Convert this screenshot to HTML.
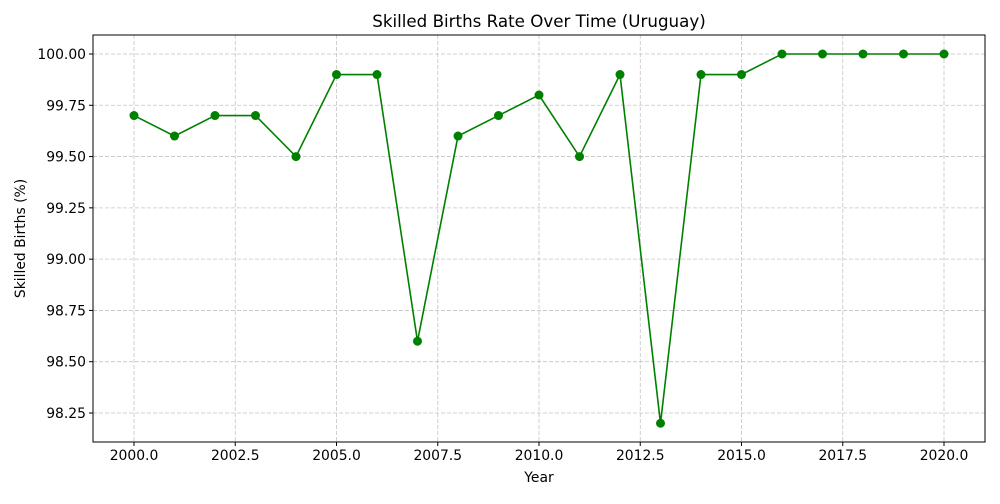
<!DOCTYPE html>
<html><head><meta charset="utf-8"><style>
body{margin:0;background:#fff;font-family:"DejaVu Sans","Liberation Sans",sans-serif}
svg text{font-family:"DejaVu Sans","Liberation Sans",sans-serif}
</style></head><body>
<svg id="chart" width="1000" height="500" xmlns="http://www.w3.org/2000/svg"></svg>
<script>
const years=[2000,2001,2002,2003,2004,2005,2006,2007,2008,2009,2010,2011,2012,2013,2014,2015,2016,2017,2018,2019,2020];
const values=[99.7,99.6,99.7,99.7,99.5,99.9,99.9,98.6,99.6,99.7,99.8,99.5,99.9,98.2,99.9,99.9,100,100,100,100,100];
const xTicks=[2000,2002.5,2005,2007.5,2010,2012.5,2015,2017.5,2020];
const yTicks=[98.25,98.5,98.75,99,99.25,99.5,99.75,100];
const svg=document.getElementById('chart');
const NS='http://www.w3.org/2000/svg';
const L=93,R=985,T=35,B=442;
const x=v=>134+(v-2000)*40.5;
const y=v=>54+(100-v)*205.14;
function mk(tag,attrs,parent){const e=document.createElementNS(NS,tag);for(const k in attrs)e.setAttribute(k,attrs[k]);(parent||svg).appendChild(e);return e;}
const grid=mk('g',{});


xTicks.forEach(t=>{
  const l=mk('line',{x1:x(t),x2:x(t),y1:T,y2:B,stroke:'#c4c4c4','stroke-dasharray':'4,2','stroke-width':0.8},grid);
  
  
  mk('line',{x1:x(t),x2:x(t),y1:B,y2:B+4,stroke:'#000'});
  const tx=mk('text',{x:x(t),y:B+18,'text-anchor':'middle','font-size':13.9});
  tx.textContent=t.toFixed(1);
  
  
});
yTicks.forEach(t=>{
  const l=mk('line',{x1:L,x2:R,y1:y(t),y2:y(t),stroke:'#c4c4c4','stroke-dasharray':'4,2','stroke-width':0.8},grid);
  
  
  mk('line',{x1:L-4,x2:L,y1:y(t),y2:y(t),stroke:'#000'});
  const tx=mk('text',{x:L-7,y:y(t)+5,'text-anchor':'end','font-size':13.9});
  tx.textContent=t.toFixed(2);
  
  
});
const frame=mk('rect',{x:L,y:T,width:R-L,height:B-T,fill:'none',stroke:'#000','stroke-width':1});


const line=mk('polyline',{points:years.map((yr,i)=>x(yr)+','+y(values[i])).join(' '),fill:'none',stroke:'#008000','stroke-width':1.6});


years.forEach((yr,i)=>{
  const c=mk('circle',{cx:x(yr),cy:y(values[i]),r:4.5,fill:'#008000'});
  
  
});
const title=mk('text',{x:(L+R)/2,y:27,'text-anchor':'middle','font-size':16.7});
title.textContent='Skilled Births Rate Over Time (Uruguay)';


const xt=mk('text',{x:(L+R)/2,y:482,'text-anchor':'middle','font-size':13.9});
xt.textContent='Year';


const yt=mk('text',{x:25,y:(T+B)/2,'text-anchor':'middle','font-size':13.9,transform:'rotate(-90 25 '+((T+B)/2)+')'});
yt.textContent='Skilled Births (%)';


</script>
</body></html>
